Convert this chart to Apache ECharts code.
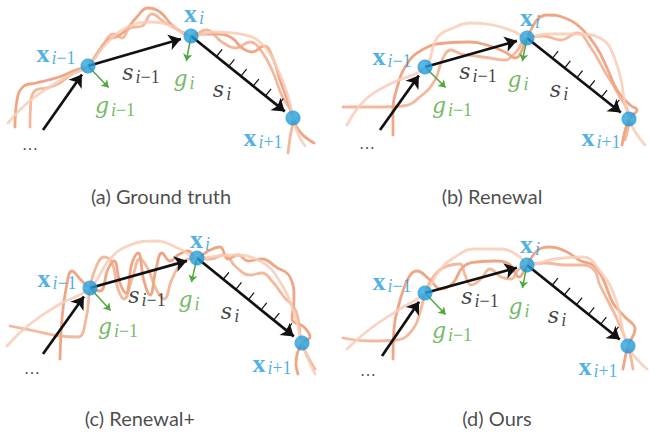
<!DOCTYPE html>
<html><head><meta charset="utf-8">
<script src="https://cdn.jsdelivr.net/npm/echarts@6/dist/echarts.min.js"></script>
<style>html,body{margin:0;padding:0;background:#fff}#chart{width:649px;height:438px}</style>
</head><body><div id="chart"></div>
<script>
// Panel captions
const captions = ['(a) Ground truth', '(b) Renewal', '(c) Renewal+', '(d) Ours'];

// Trajectory nodes x_{i-1}, x_i, x_{i+1} (panel-local units)
const nodesA = [[88, 66], [191, 36], [293, 118]];
const nodesB = [[100, 67], [202, 38], [304, 119]];
const nodesC = [[90, 69], [197, 39], [302, 124]];
const nodesD = [[100, 74], [202, 46], [303, 127]];

// Tail of the incoming segment s_{i-2}
const tailA = [43, 130];
const tailB = [55, 130];
const tailC = [43, 135];
const tailD = [57, 137];

// Tips of the gradient vectors g_{i-1}, g_i
const gradA = [[110, 89], [186, 63]];
const gradB = [[122, 89], [197, 63]];
const gradC = [[112, 93], [191, 65]];
const gradD = [[122, 97], [197, 71]];

// Sampled strokes passing through the nodes
const strokesA = [
  [[15,127],[17,100],[24,86],[36,83],[48,80],[62,76],[76,70],[88,66],[98,52],[108,40],[118,36],[126,30],[136,18],[148,8],[160,12],[172,25],[184,33],[191,36],[204,34],[218,34],[232,38],[242,48],[252,52],[264,46],[272,56],[280,80],[288,102],[293,118],[300,132],[314,143]],
  [[30,127],[31,100],[36,90],[46,88],[58,84],[72,74],[88,66],[100,50],[114,34],[122,38],[130,28],[142,26],[152,14],[164,22],[178,30],[191,36],[206,30],[222,42],[236,48],[250,42],[262,52],[272,70],[282,96],[293,118],[290,138],[288,153]],
  [[8,123],[26,104],[48,88],[68,76],[88,66],[106,44],[126,28],[150,22],[172,26],[191,36],[214,32],[240,34],[262,44],[278,70],[288,96],[293,118],[298,134],[305,146]]
];
const strokesB = [
  [[68,135],[68,112],[72,88],[82,64],[97,50],[120,43],[145,42],[165,46],[180,52],[190,58],[202,38],[212,20],[222,15],[240,18],[258,30],[272,48],[282,68],[292,90],[305,105],[312,110],[304,119],[297,145]],
  [[18,107],[50,107],[78,106],[96,96],[110,80],[118,58],[126,50],[136,54],[150,56],[165,58],[180,60],[191,52],[202,38],[218,36],[236,40],[252,33],[266,48],[280,72],[292,92],[304,119],[300,140]],
  [[22,125],[40,100],[65,84],[100,67],[112,38],[128,28],[145,23],[168,25],[190,32],[202,38],[222,34],[252,34],[275,38],[292,65],[304,119],[320,145]]
];
const strokesC = [
  [[60,140],[62,100],[66,70],[72,52],[80,60],[90,69],[100,72],[108,50],[114,42],[120,64],[126,74],[132,44],[138,34],[144,62],[150,76],[156,50],[162,34],[170,42],[178,36],[188,32],[197,39],[208,32],[220,28],[228,40],[238,36],[248,42],[262,40],[276,48],[290,58],[294,80],[292,100],[304,108],[310,118],[302,124],[296,145],[298,155]],
  [[10,107],[35,112],[60,117],[78,118],[86,100],[90,69],[96,48],[104,38],[112,44],[118,70],[124,80],[132,60],[140,40],[148,50],[156,70],[164,80],[172,60],[182,44],[197,39],[210,40],[224,36],[236,48],[250,56],[262,54],[272,62],[284,78],[296,92],[302,124],[315,150]],
  [[7,127],[30,105],[60,85],[90,69],[110,40],[130,26],[155,22],[180,30],[197,39],[230,36],[260,42],[282,66],[296,100],[302,124],[315,155]]
];
const strokesD = [
  [[68,140],[69,110],[74,85],[84,58],[92,52],[104,60],[116,70],[128,64],[138,48],[152,43],[170,42],[184,45],[194,58],[202,46],[212,32],[224,28],[240,32],[256,42],[268,46],[278,60],[288,84],[300,98],[310,110],[303,127],[298,150]],
  [[18,119],[45,122],[72,121],[88,110],[96,90],[100,74],[108,58],[120,48],[135,45],[140,56],[146,66],[156,60],[165,50],[176,58],[186,60],[194,50],[202,46],[220,44],[240,46],[258,46],[270,52],[274,64],[282,80],[292,100],[303,127],[308,150]],
  [[22,130],[45,110],[75,90],[100,74],[114,52],[130,38],[150,30],[175,30],[195,38],[202,46],[230,40],[258,38],[275,52],[290,78],[303,127],[322,150]]
];

// ---- layout (not data) ----
const panelOrigin = [[0, 0], [325, 0], [0, 219], [325, 219]];
// label anchors: x_{i-1}, x_i, x_{i+1}, s_{i-1}, g_{i-1}, g_i, s_i, ellipsis, caption
const labelPosA = [[56,53],[194,13],[263,137],[141,72],[115,105],[184,78],[222,89],[30,144],[161,196]];
const labelPosB = [[67,56],[205,17],[276,137],[153,71],[127,105],[193,79],[234,89],[42,143],[167,196]];
const labelPosC = [[57,59],[200,20],[272,144],[147,76],[118,107],[189,80],[230,92],[32,149],[140,199]];
const labelPosD = [[67,62],[205,25],[273,147],[155,77],[127,111],[194,87],[232,96],[43,151],[172,199]];
const hatchAt = [0.25, 0.37, 0.49, 0.61, 0.73, 0.85];

const panels = [
  { nodes: nodesA, tail: tailA, grad: gradA, strokes: strokesA, labels: labelPosA },
  { nodes: nodesB, tail: tailB, grad: gradB, strokes: strokesB, labels: labelPosB },
  { nodes: nodesC, tail: tailC, grad: gradC, strokes: strokesC, labels: labelPosC },
  { nodes: nodesD, tail: tailD, grad: gradD, strokes: strokesD, labels: labelPosD }
];

const strokeTone = [
  { color: '#ec966e', opacity: 0.85 },
  { color: '#f0a883', opacity: 0.8 },
  { color: '#f8cdb7', opacity: 0.85 }
];

const BLUE = '#1f9ddb', GREEN = '#4fa83a', INK = '#111111';
const NODE_R = 7.5;
const SERIF = '"Liberation Serif", "DejaVu Serif", serif';
const SERIF_WIDE = '"DejaVu Serif", "Liberation Serif", serif';

function shift(o) { return p => [p[0] + o[0], p[1] + o[1]]; }
function pullBack(from, to, d) {
  const dx = to[0] - from[0], dy = to[1] - from[1];
  const L = Math.hypot(dx, dy);
  return [to[0] - dx / L * d, to[1] - dy / L * d];
}

const series = [];
const arrowSegs = [], hatchSegs = [], gradSegs = [], nodePts = [];
const labelItems = { xl: [], sl: [], gl: [], dots: [], cap: [] };

panels.forEach((pn, k) => {
  const T = shift(panelOrigin[k]);
  const n = pn.nodes.map(T);
  pn.strokes.forEach((s, j) => {
    series.push({
      type: 'line', data: s.map(T), smooth: 0.45, symbol: 'none', silent: true, z: 1,
      lineStyle: { color: strokeTone[j].color, opacity: strokeTone[j].opacity, width: 2.8, cap: 'round' }
    });
  });
  const tail = T(pn.tail);
  arrowSegs.push({ coords: [tail, pullBack(tail, n[0], NODE_R + 3)] });
  arrowSegs.push({ coords: [n[0], pullBack(n[0], n[1], NODE_R + 3)] });
  arrowSegs.push({ coords: [n[1], pullBack(n[1], n[2], NODE_R + 3)] });
  // hatch marks on s_i
  const dx = n[2][0] - n[1][0], dy = n[2][1] - n[1][1];
  const L = Math.hypot(dx, dy);
  const px = dy / L, py = -dx / L;
  hatchAt.forEach(t => {
    const b = [n[1][0] + dx * t, n[1][1] + dy * t];
    hatchSegs.push({ coords: [b, [b[0] + px * 9, b[1] + py * 9]] });
  });
  pn.grad.map(T).forEach((g, j) => {
    gradSegs.push({ coords: [n[j], pullBack(n[j], g, 2)] });
  });
  n.forEach(p => nodePts.push(p));
  const lp = pn.labels.map(T);
  labelItems.xl.push({ value: lp[0], txt: '{x|x}{i|i}{n|−1}' });
  labelItems.xl.push({ value: lp[1], txt: '{x|x}{i|i}' });
  labelItems.xl.push({ value: lp[2], txt: '{x|x}{i|i}{n|+1}' });
  labelItems.sl.push({ value: lp[3], txt: '{v|s}{i|i}{n|−1}' });
  labelItems.sl.push({ value: lp[6], txt: '{v|s}{i|i}' });
  labelItems.gl.push({ value: lp[4], txt: '{v|g}{i|i}{n|−1}' });
  labelItems.gl.push({ value: lp[5], txt: '{v|g}{i|i}' });
  labelItems.dots.push({ value: lp[7], txt: '…' });
  labelItems.cap.push({ value: lp[8], txt: captions[k] });
});

series.push({
  type: 'lines', coordinateSystem: 'cartesian2d', data: arrowSegs, silent: true, z: 4,
  symbol: ['none', 'arrow'], symbolSize: 12,
  lineStyle: { color: INK, width: 2.7, opacity: 1 }
});
series.push({
  type: 'lines', coordinateSystem: 'cartesian2d', data: hatchSegs, silent: true, z: 4,
  symbol: ['none', 'none'], lineStyle: { color: INK, width: 1.2, opacity: 1 }
});
series.push({
  type: 'lines', coordinateSystem: 'cartesian2d', data: gradSegs, silent: true, z: 5,
  symbol: ['none', 'arrow'], symbolSize: 7,
  lineStyle: { color: GREEN, width: 1.5, opacity: 1 }
});
series.push({
  type: 'scatter', data: nodePts, symbolSize: NODE_R * 2, silent: true, z: 6,
  itemStyle: {
    color: { type: 'radial', x: 0.4, y: 0.4, r: 0.7,
      colorStops: [{ offset: 0, color: '#2fabe6' }, { offset: 1, color: '#168fd0' }] }
  }
});

function textSeries(items, rich, base) {
  return {
    type: 'scatter', silent: true, z: 8, symbolSize: 1,
    itemStyle: { color: 'rgba(0,0,0,0)' },
    data: items.map(d => ({ value: d.value, txt: d.txt })),
    label: Object.assign({
      show: true, position: 'inside', align: 'center', verticalAlign: 'middle',
      formatter: p => p.data.txt, rich: rich
    }, base || {})
  };
}
const subPad = [10, 0, 0, 0];
const subPadLead = [10, 0, 0, 2];
series.push(textSeries(labelItems.xl, {
  x: { fontFamily: SERIF, fontWeight: 'bold', fontSize: 26, color: BLUE },
  i: { fontFamily: SERIF, fontStyle: 'italic', fontSize: 18, color: BLUE, padding: subPadLead },
  n: { fontFamily: SERIF, fontSize: 18, color: BLUE, padding: subPad }
}));
series.push(textSeries(labelItems.sl, {
  v: { fontFamily: SERIF_WIDE, fontStyle: 'italic', fontSize: 22, color: INK },
  i: { fontFamily: SERIF, fontStyle: 'italic', fontSize: 18, color: INK, padding: subPadLead },
  n: { fontFamily: SERIF, fontSize: 18, color: INK, padding: subPad }
}));
series.push(textSeries(labelItems.gl, {
  v: { fontFamily: SERIF_WIDE, fontStyle: 'italic', fontSize: 22, color: GREEN },
  i: { fontFamily: SERIF, fontStyle: 'italic', fontSize: 18, color: GREEN, padding: subPadLead },
  n: { fontFamily: SERIF, fontSize: 18, color: GREEN, padding: subPad }
}));
series.push(textSeries(labelItems.dots, {}, { fontFamily: SERIF, fontSize: 16, color: INK }));
series.push(textSeries(labelItems.cap, {}, { fontFamily: 'Lato, sans-serif', fontSize: 20, color: '#1c1c1c' }));

const chart = echarts.init(document.getElementById('chart'), null, { renderer: 'svg' });
chart.setOption({
  animation: false,
  grid: { left: 0, right: 0, top: 0, bottom: 0 },
  xAxis: { type: 'value', min: 0, max: 649, show: false },
  yAxis: { type: 'value', min: 0, max: 438, inverse: true, show: false },
  series: series
});
</script></body></html>
